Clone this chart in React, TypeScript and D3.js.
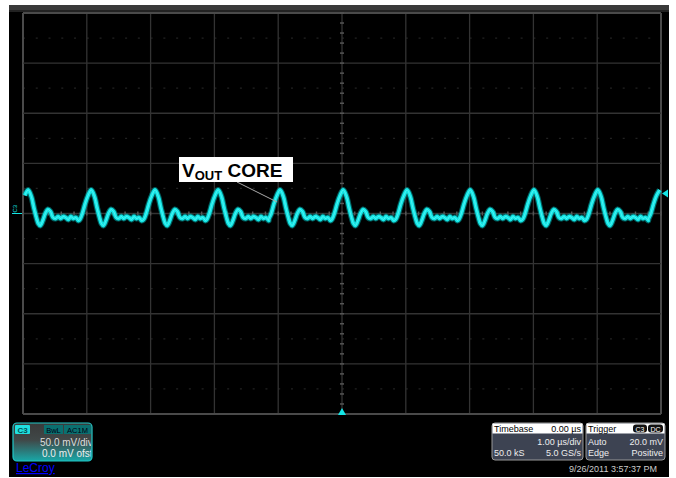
import React from 'react';
import * as d3 from 'd3';

// time of each peak in µs (1 µs/div)
const peakTimes = [-4.92, -3.93, -2.93, -1.94, -0.97, 0.02, 1.02, 2.01, 3.01, 4.01, 4.98];
// one ripple period, offset from the peak (µs) and level (mV, 50 mV/div)
const shapeOffsets = [-0.18, -0.14, -0.1, -0.05, 0, 0.05, 0.09, 0.13, 0.16, 0.19, 0.23, 0.27, 0.31, 0.35, 0.39, 0.43, 0.47, 0.51, 0.55, 0.59, 0.63, 0.67, 0.71, 0.75, 0.79];
const shapeValues = [-6, 0, 9, 18, 23.5, 17, 6, -4, -10, -12, -7, 0, 4, 2, -4, -5, -3, -5, -3, -4, -6, -3, -5, -4, -7];

const xTicks = d3.range(-5, 5.01, 1);
const yTicks = d3.range(-200, 200.01, 50);

const W = 676;
const H = 478;
const font = 'Liberation Sans, Arial, sans-serif';

export default function App() {
  const x = d3.scaleLinear().domain([-5, 5]).range([23, 661]);
  const y = d3.scaleLinear().domain([-200, 200]).range([414, 13]);

  const pts: [number, number][] = [];
  peakTimes.forEach((p) => {
    shapeOffsets.forEach((o, i) => {
      const t = p + o;
      if (t >= -5 && t <= 5) pts.push([t, shapeValues[i]]);
    });
  });
  pts.sort((a, b) => a[0] - b[0]);

  const line = d3
    .line<[number, number]>()
    .x((d) => x(d[0]))
    .y((d) => y(d[1]))
    .curve(d3.curveCatmullRom);
  const path = line(pts) || '';

  const minorX = d3.range(-5, 5.001, 0.2);
  const minorY = d3.range(-200, 200.001, 10);
  const halfRows = d3.range(-175, 200, 50);

  const cyan = '#14e6e6';

  return (
    <svg width={W} height={H} style={{ position: 'absolute', left: 0, top: 0, background: '#fff' }}>
      <rect x={9} y={5} width={660} height={472} fill="#000" />
      <rect x={9} y={5} width={660} height={5} fill="#3a3a3a" />
      <rect x={9} y={10} width={660} height={2} fill="#222" />

      {/* faint dotted half-division rows */}
      {halfRows.map((v) => (
        <line key={'h' + v} x1={x(-5)} x2={x(5)} y1={y(v)} y2={y(v)} stroke="#222" strokeWidth={1.2} strokeDasharray="2 10.76" />
      ))}

      {/* grid */}
      {xTicks.map((t) => (
        <line key={'x' + t} x1={x(t)} x2={x(t)} y1={y(200)} y2={y(-200)} stroke={t === -5 || t === 5 ? '#4a4a4a' : '#333'} strokeWidth={t === -5 || t === 5 ? 2 : 1.3} />
      ))}
      {yTicks.map((v) => (
        <line key={'y' + v} x1={x(-5)} x2={x(5)} y1={y(v)} y2={y(v)} stroke={v === 200 || v === -200 ? '#4a4a4a' : '#333'} strokeWidth={v === 200 || v === -200 ? 2 : 1.3} />
      ))}
      {minorY.map((v) => (
        <line key={'my' + v} x1={x(0) - 2} x2={x(0) + 2} y1={y(v)} y2={y(v)} stroke="#555" strokeWidth={1.5} />
      ))}
      {minorX.map((t) => (
        <line key={'mx' + t} x1={x(t)} x2={x(t)} y1={y(0) - 2} y2={y(0) + 2} stroke="#555" strokeWidth={1.5} />
      ))}

      {/* trace */}
      <path d={path} fill="none" stroke="#0aa" strokeWidth={6} strokeOpacity={0.55} strokeLinejoin="round" />
      <path d={path} fill="none" stroke={cyan} strokeWidth={3.8} strokeLinejoin="round" />
      <path d={path} fill="none" stroke="#8ff" strokeWidth={1} strokeOpacity={0.5} strokeLinejoin="round" />

      {/* markers */}
      <line x1={12} x2={22} y1={y(0)} y2={y(0)} stroke={cyan} strokeWidth={1} />
      <text x={0} y={0} transform={`translate(17,${y(0) - 1}) rotate(-90)`} fontSize={6} fill={cyan} fontFamily={font}>C3</text>
      <path d={`M${x(5) + 1},${y(20)} l6,-4 v8 z`} fill={cyan} />
      <path d={`M${x(0)},${y(-200) - 6} l-4,7 h8 z`} fill={cyan} />

      {/* annotation */}
      <line x1={237} y1={182} x2={277} y2={202} stroke="#aaa" strokeWidth={1} />
      <rect x={179} y={157} width={114} height={25} fill="#fff" />
      <text x={182} y={177} fontSize={19} fontWeight="bold" fill="#000" fontFamily={font}>
        V<tspan fontSize={13} dy={3}>OUT</tspan>
        <tspan dy={-3}> CORE</tspan>
      </text>

      {/* channel box */}
      <defs>
        <linearGradient id="chg" x1="0" y1="0" x2="0" y2="1">
          <stop offset="0" stopColor="#3a3a3a" />
          <stop offset="0.45" stopColor="#404848" />
          <stop offset="1" stopColor="#18a8a8" />
        </linearGradient>
        <clipPath id="chclip">
          <rect x={13} y={423} width={78} height={38} />
        </clipPath>
      </defs>
      <rect x={13} y={423} width={79} height={38} rx={4} fill="url(#chg)" stroke="#20c8c8" strokeWidth={1.2} />
      <rect x={15} y={425} width={15} height={9} rx={1} fill="#20e0e0" />
      <text x={22.5} y={432.5} fontSize={8} textAnchor="middle" fill="#055" fontFamily={font} fontWeight="bold">C3</text>
      <rect x={44} y={425} width={19} height={9} fill="#0a7070" />
      <text x={53.5} y={432.5} fontSize={7.5} textAnchor="middle" fill="#001" fontFamily={font}>BwL</text>
      <rect x={64} y={425} width={27} height={9} fill="#0a7070" />
      <text x={77.5} y={432.5} fontSize={7.5} textAnchor="middle" fill="#001" fontFamily={font}>AC1M</text>
      <g clipPath="url(#chclip)">
        <text x={40} y={446} fontSize={10} fill="#ddd" fontFamily={font}>50.0 mV/div</text>
        <text x={42} y={457} fontSize={10} fill="#eee" fontFamily={font}>0.0 mV ofst</text>
      </g>
      <text x={16} y={472} fontSize={12} fill="#00f" fontFamily={font} textDecoration="underline">LeCroy</text>

      {/* timebase box */}
      <rect x={492} y={423} width={91} height={37} rx={3} fill="#3d4352" stroke="#999" strokeWidth={1} />
      <rect x={492.5} y={423.5} width={90} height={10} fill="#fff" />
      <text x={494} y={432} fontSize={9} fill="#000" fontFamily={font}>Timebase</text>
      <text x={581} y={432} fontSize={9} fill="#000" textAnchor="end" fontFamily={font}>0.00 µs</text>
      <text x={581} y={445} fontSize={9} fill="#eee" textAnchor="end" fontFamily={font}>1.00 µs/div</text>
      <text x={494} y={456} fontSize={9} fill="#eee" fontFamily={font}>50.0 kS</text>
      <text x={581} y={456} fontSize={9} fill="#eee" textAnchor="end" fontFamily={font}>5.0 GS/s</text>

      {/* trigger box */}
      <rect x={586} y={423} width={79} height={37} rx={3} fill="#3d4352" stroke="#999" strokeWidth={1} />
      <rect x={586.5} y={423.5} width={78} height={10} fill="#fff" />
      <text x={588} y={432} fontSize={9} fill="#000" fontFamily={font}>Trigger</text>
      <rect x={633} y={424.5} width={14} height={8} rx={3} fill="#111" />
      <text x={640} y={431.5} fontSize={7} fill="#fff" textAnchor="middle" fontFamily={font}>C3</text>
      <rect x={648} y={424.5} width={15} height={8} rx={3} fill="#111" />
      <text x={655.5} y={431.5} fontSize={7} fill="#fff" textAnchor="middle" fontFamily={font}>DC</text>
      <text x={588} y={445} fontSize={9} fill="#eee" fontFamily={font}>Auto</text>
      <text x={663} y={445} fontSize={9} fill="#eee" textAnchor="end" fontFamily={font}>20.0 mV</text>
      <text x={588} y={456} fontSize={9} fill="#eee" fontFamily={font}>Edge</text>
      <text x={663} y={456} fontSize={9} fill="#eee" textAnchor="end" fontFamily={font}>Positive</text>

      <text x={657} y={472} fontSize={9} fill="#ccc" textAnchor="end" fontFamily={font}>9/26/2011 3:57:37 PM</text>
    </svg>
  );
}
